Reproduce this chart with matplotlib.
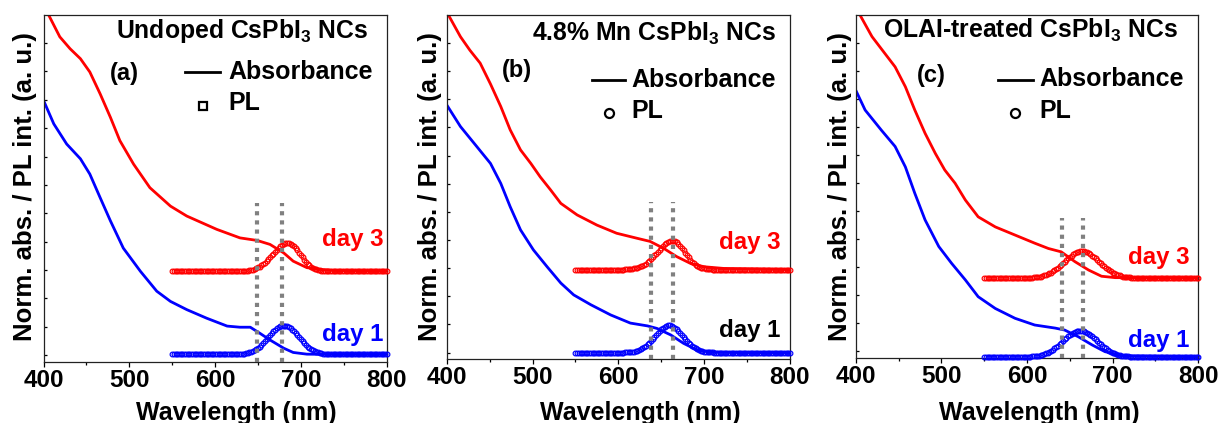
import numpy as np
import matplotlib
matplotlib.use("Agg")
import matplotlib.pyplot as plt
from matplotlib.lines import Line2D
from matplotlib.ticker import MultipleLocator

plt.rcParams['font.family'] = ['Liberation Sans', 'DejaVu Sans']
plt.rcParams['font.weight'] = 'bold'
plt.rcParams['mathtext.fontset'] = 'custom'
plt.rcParams['mathtext.rm'] = 'Liberation Sans:bold'
plt.rcParams['mathtext.bf'] = 'Liberation Sans:bold'
plt.rcParams['mathtext.it'] = 'Liberation Sans:bold'

W, H = 1221, 423
RED, BLUE, GREY = '#ff0000', '#0000ff', '#808080'

# ---------------- absorbance spectra (wavelength nm, offset norm. abs.) ----
a_abs3_nm = [400, 406, 419, 431, 443, 454, 466, 478, 489, 505, 524, 548, 567,
             602, 629, 649, 664, 680, 691, 707, 722, 738, 800]
a_abs3 = [12.5, 11.99, 11.22, 10.80, 10.45, 9.98, 9.21, 8.38, 7.56, 6.73, 5.90,
          5.25, 4.90, 4.43, 4.13, 4.04, 3.90, 3.60, 3.31, 3.08, 3.02, 2.98, 2.95]
a_abs1_nm = [400, 412, 427, 443, 454, 466, 478, 493, 513, 532, 548, 567, 590,
             614, 629, 641, 652, 664, 680, 691, 707, 738, 800]
a_abs1 = [8.98, 8.15, 7.44, 6.92, 6.38, 5.55, 4.73, 3.77, 2.95, 2.25, 1.89, 1.60,
          1.30, 1.02, 0.98, 0.98, 0.77, 0.53, 0.24, 0.09, 0.03, 0.02, 0.02]

b_abs3_nm = [400, 416, 427, 439, 451, 463, 474, 486, 498, 509, 521, 533, 552,
             575, 598, 622, 637, 653, 668, 684, 700, 723, 800]
b_abs3 = [12.1, 11.22, 10.74, 10.28, 9.54, 8.74, 7.91, 7.20, 6.72, 6.24, 5.78,
          5.30, 4.89, 4.53, 4.24, 4.06, 3.95, 3.70, 3.41, 3.17, 3.05, 2.99, 2.95]
b_abs1_nm = [400, 416, 435, 451, 463, 474, 486, 501, 517, 533, 548, 568, 591,
             614, 634, 645, 661, 676, 692, 707, 746, 800]
b_abs1 = [8.80, 8.03, 7.32, 6.72, 6.01, 5.18, 4.36, 3.65, 3.05, 2.47, 2.05, 1.70,
          1.34, 1.05, 0.95, 0.86, 0.63, 0.33, 0.09, 0.02, 0.00, 0.00]

c_abs3_nm = [400, 405, 419, 434, 446, 458, 469, 481, 493, 504, 516, 528, 543,
             563, 586, 609, 625, 640, 656, 672, 687, 703, 800]
c_abs3 = [12.35, 11.99, 11.22, 10.62, 10.14, 9.43, 8.60, 7.77, 7.05, 6.46, 5.99,
          5.39, 4.79, 4.43, 4.14, 3.85, 3.66, 3.54, 3.19, 2.89, 2.67, 2.62, 2.61]
c_abs1_nm = [400, 411, 430, 446, 458, 469, 481, 497, 512, 528, 543, 563, 586,
             609, 633, 644, 660, 676, 691, 711, 800]
c_abs1 = [9.31, 8.60, 7.88, 7.30, 6.57, 5.63, 4.68, 3.73, 3.13, 2.54, 1.94, 1.52,
          1.17, 0.93, 0.82, 0.75, 0.51, 0.22, -0.02, -0.17, -0.20]

# ---------------- PL spectra, sampled every 2 nm from 550 to 800 nm --------
pl_nm = np.arange(550, 801, 2)

a_pl3 = [2.95, 2.95, 2.95, 2.95, 2.95, 2.95, 2.95, 2.95, 2.95, 2.95,
         2.95, 2.95, 2.95, 2.95, 2.95, 2.95, 2.95, 2.95, 2.95, 2.95,
         2.95, 2.95, 2.95, 2.95, 2.95, 2.95, 2.95, 2.95, 2.95, 2.95,
         2.95, 2.95, 2.95, 2.95, 2.95, 2.95, 2.95, 2.95, 2.95, 2.95,
         2.96, 2.96, 2.96, 2.97, 2.98, 2.99, 3.00, 3.01, 3.03, 3.06,
         3.09, 3.12, 3.16, 3.20, 3.25, 3.31, 3.37, 3.44, 3.51, 3.57,
         3.64, 3.71, 3.77, 3.83, 3.87, 3.91, 3.94, 3.95, 3.95, 3.93,
         3.89, 3.84, 3.77, 3.69, 3.61, 3.53, 3.44, 3.36, 3.29, 3.22,
         3.17, 3.12, 3.08, 3.05, 3.02, 3.00, 2.99, 2.97, 2.97, 2.96,
         2.96, 2.95, 2.95, 2.95, 2.95, 2.95, 2.95, 2.95, 2.95, 2.95,
         2.95, 2.95, 2.95, 2.95, 2.95, 2.95, 2.95, 2.95, 2.95, 2.95,
         2.95, 2.95, 2.95, 2.95, 2.95, 2.95, 2.95, 2.95, 2.95, 2.95,
         2.95, 2.95, 2.95, 2.95, 2.95, 2.95]
a_pl1 = [0.02, 0.02, 0.02, 0.02, 0.02, 0.02, 0.02, 0.02, 0.02, 0.02,
         0.02, 0.02, 0.02, 0.02, 0.02, 0.02, 0.02, 0.02, 0.02, 0.02,
         0.02, 0.02, 0.02, 0.02, 0.02, 0.02, 0.02, 0.02, 0.02, 0.02,
         0.02, 0.02, 0.02, 0.02, 0.02, 0.02, 0.02, 0.03, 0.03, 0.03,
         0.04, 0.04, 0.05, 0.06, 0.08, 0.09, 0.12, 0.14, 0.18, 0.21,
         0.25, 0.30, 0.36, 0.42, 0.48, 0.55, 0.62, 0.69, 0.76, 0.83,
         0.89, 0.94, 0.98, 1.01, 1.03, 1.04, 1.03, 1.01, 0.98, 0.94,
         0.89, 0.83, 0.76, 0.69, 0.62, 0.55, 0.48, 0.42, 0.36, 0.30,
         0.25, 0.21, 0.18, 0.14, 0.12, 0.09, 0.08, 0.06, 0.05, 0.04,
         0.04, 0.03, 0.03, 0.03, 0.02, 0.02, 0.02, 0.02, 0.02, 0.02,
         0.02, 0.02, 0.02, 0.02, 0.02, 0.02, 0.02, 0.02, 0.02, 0.02,
         0.02, 0.02, 0.02, 0.02, 0.02, 0.02, 0.02, 0.02, 0.02, 0.02,
         0.02, 0.02, 0.02, 0.02, 0.02, 0.02]

b_pl3 = [2.95, 2.95, 2.95, 2.95, 2.95, 2.95, 2.95, 2.95, 2.95, 2.95,
         2.95, 2.95, 2.95, 2.95, 2.95, 2.95, 2.95, 2.95, 2.95, 2.95,
         2.95, 2.95, 2.95, 2.95, 2.95, 2.95, 2.95, 2.95, 2.95, 2.96,
         2.96, 2.96, 2.97, 2.98, 2.99, 3.00, 3.02, 3.04, 3.06, 3.09,
         3.12, 3.16, 3.21, 3.26, 3.32, 3.38, 3.45, 3.52, 3.59, 3.66,
         3.73, 3.80, 3.85, 3.90, 3.94, 3.96, 3.98, 3.98, 3.96, 3.92,
         3.86, 3.79, 3.72, 3.63, 3.54, 3.46, 3.38, 3.30, 3.23, 3.17,
         3.12, 3.08, 3.05, 3.02, 3.00, 2.99, 2.97, 2.97, 2.96, 2.96,
         2.95, 2.95, 2.95, 2.95, 2.95, 2.95, 2.95, 2.95, 2.95, 2.95,
         2.95, 2.95, 2.95, 2.95, 2.95, 2.95, 2.95, 2.95, 2.95, 2.95,
         2.95, 2.95, 2.95, 2.95, 2.95, 2.95, 2.95, 2.95, 2.95, 2.95,
         2.95, 2.95, 2.95, 2.95, 2.95, 2.95, 2.95, 2.95, 2.95, 2.95,
         2.95, 2.95, 2.95, 2.95, 2.95, 2.95]
b_pl1 = [0.00, 0.00, 0.00, 0.00, 0.00, 0.00, 0.00, 0.00, 0.00, 0.00,
         0.00, 0.00, 0.00, 0.00, 0.00, 0.00, 0.00, 0.00, 0.00, 0.00,
         0.00, 0.00, 0.00, 0.00, 0.00, 0.00, 0.00, 0.00, 0.00, 0.01,
         0.01, 0.01, 0.02, 0.03, 0.04, 0.05, 0.07, 0.09, 0.12, 0.15,
         0.19, 0.23, 0.29, 0.35, 0.41, 0.48, 0.55, 0.62, 0.70, 0.77,
         0.83, 0.88, 0.92, 0.95, 0.97, 0.97, 0.95, 0.92, 0.88, 0.83,
         0.77, 0.70, 0.62, 0.55, 0.48, 0.41, 0.35, 0.29, 0.23, 0.19,
         0.15, 0.12, 0.09, 0.07, 0.05, 0.04, 0.03, 0.02, 0.01, 0.01,
         0.01, 0.00, 0.00, 0.00, 0.00, 0.00, 0.00, 0.00, 0.00, 0.00,
         0.00, 0.00, 0.00, 0.00, 0.00, 0.00, 0.00, 0.00, 0.00, 0.00,
         0.00, 0.00, 0.00, 0.00, 0.00, 0.00, 0.00, 0.00, 0.00, 0.00,
         0.00, 0.00, 0.00, 0.00, 0.00, 0.00, 0.00, 0.00, 0.00, 0.00,
         0.00, 0.00, 0.00, 0.00, 0.00, 0.00]

c_pl3 = [2.61, 2.61, 2.61, 2.61, 2.61, 2.61, 2.61, 2.61, 2.61, 2.61,
         2.61, 2.61, 2.61, 2.61, 2.61, 2.61, 2.61, 2.61, 2.61, 2.61,
         2.61, 2.61, 2.61, 2.61, 2.61, 2.62, 2.62, 2.62, 2.62, 2.63,
         2.63, 2.64, 2.65, 2.66, 2.68, 2.70, 2.72, 2.74, 2.77, 2.80,
         2.84, 2.88, 2.92, 2.97, 3.02, 3.08, 3.13, 3.19, 3.25, 3.31,
         3.36, 3.41, 3.46, 3.50, 3.53, 3.55, 3.57, 3.57, 3.57, 3.55,
         3.53, 3.50, 3.46, 3.41, 3.36, 3.31, 3.25, 3.19, 3.13, 3.08,
         3.02, 2.97, 2.92, 2.88, 2.84, 2.80, 2.77, 2.74, 2.72, 2.70,
         2.68, 2.66, 2.65, 2.64, 2.63, 2.63, 2.62, 2.62, 2.62, 2.62,
         2.61, 2.61, 2.61, 2.61, 2.61, 2.61, 2.61, 2.61, 2.61, 2.61,
         2.61, 2.61, 2.61, 2.61, 2.61, 2.61, 2.61, 2.61, 2.61, 2.61,
         2.61, 2.61, 2.61, 2.61, 2.61, 2.61, 2.61, 2.61, 2.61, 2.61,
         2.61, 2.61, 2.61, 2.61, 2.61, 2.61]
c_pl1 = [-0.21, -0.21, -0.21, -0.21, -0.21, -0.21, -0.21, -0.21, -0.21, -0.21,
         -0.21, -0.21, -0.21, -0.21, -0.21, -0.21, -0.21, -0.21, -0.21, -0.21,
         -0.21, -0.21, -0.21, -0.21, -0.20, -0.20, -0.20, -0.20, -0.19, -0.19,
         -0.18, -0.17, -0.16, -0.14, -0.13, -0.11, -0.08, -0.06, -0.02, 0.01,
         0.05, 0.10, 0.14, 0.19, 0.25, 0.30, 0.36, 0.42, 0.47, 0.53,
         0.57, 0.62, 0.66, 0.69, 0.71, 0.72, 0.73, 0.72, 0.71, 0.69,
         0.66, 0.62, 0.57, 0.53, 0.47, 0.42, 0.36, 0.30, 0.25, 0.19,
         0.14, 0.10, 0.05, 0.01, -0.02, -0.06, -0.08, -0.11, -0.13, -0.14,
         -0.16, -0.17, -0.18, -0.19, -0.19, -0.20, -0.20, -0.20, -0.20, -0.21,
         -0.21, -0.21, -0.21, -0.21, -0.21, -0.21, -0.21, -0.21, -0.21, -0.21,
         -0.21, -0.21, -0.21, -0.21, -0.21, -0.21, -0.21, -0.21, -0.21, -0.21,
         -0.21, -0.21, -0.21, -0.21, -0.21, -0.21, -0.21, -0.21, -0.21, -0.21,
         -0.21, -0.21, -0.21, -0.21, -0.21, -0.21]

# PL peak-position guides (nm) and their top (norm. units)
a_guides, a_guide_top = [648.5, 677.7], 5.37
b_guides, b_guide_top = [638.0, 664.0], 5.36
c_guides, c_guide_top = [640.5, 665.0], 4.74

titles = ['Undoped CsPbI$_\\mathbf{3}$ NCs', '4.8% Mn CsPbI$_\\mathbf{3}$ NCs',
          'OLAI-treated CsPbI$_\\mathbf{3}$ NCs']
tags = ['(a)', '(b)', '(c)']
day1_colors = [BLUE, 'black', BLUE]
pl_markers = ['s', 'o', 'o']

YLIM = (-0.236, 11.99)

panels = [
    dict(rect=(43.5, 15.0, 386.7, 361.7), abs3=(a_abs3_nm, a_abs3), abs1=(a_abs1_nm, a_abs1),
         pl3=a_pl3, pl1=a_pl1, guides=a_guides, gtop=a_guide_top,
         title_at=(368.3, 38.3), tag_at=(110.0, 80.0), leg_line=(185.0, 220.0, 72.0),
         abs_txt=(228.3, 79.0), pl_mk=(202.5, 106.0), pl_txt=(228.3, 110.0),
         d3=(321.7, 246.0), d1=(321.7, 340.7), ylab_x=25.0, xlab_x=236.0),
    dict(rect=(446.7, 15.0, 790.0, 359.3), abs3=(b_abs3_nm, b_abs3), abs1=(b_abs1_nm, b_abs1),
         pl3=b_pl3, pl1=b_pl1, guides=b_guides, gtop=b_guide_top,
         title_at=(776.0, 40.7), tag_at=(501.7, 76.7), leg_line=(591.7, 625.0, 80.0),
         abs_txt=(631.7, 87.3), pl_mk=(609.0, 112.7), pl_txt=(631.7, 118.3),
         d3=(719.3, 249.3), d1=(719.3, 337.3), ylab_x=430.0, xlab_x=640.0),
    dict(rect=(855.7, 15.0, 1198.3, 357.7), abs3=(c_abs3_nm, c_abs3), abs1=(c_abs1_nm, c_abs1),
         pl3=c_pl3, pl1=c_pl1, guides=c_guides, gtop=c_guide_top,
         title_at=(1178.3, 37.3), tag_at=(916.7, 81.7), leg_line=(998.3, 1033.3, 80.0),
         abs_txt=(1039.0, 86.0), pl_mk=(1015.0, 112.7), pl_txt=(1039.0, 118.3),
         d3=(1128.3, 264.0), d1=(1128.3, 346.7), ylab_x=840.0, xlab_x=1039.0),
]

fig = plt.figure(figsize=(W / 100, H / 100), dpi=100)


def fx(px):
    return px / W


def fy(py):
    return 1 - py / H


def ftext(px, py, s, **kw):
    kw.setdefault('fontsize', 17)
    kw.setdefault('fontweight', 'bold')
    fig.text(fx(px), fy(py), s, **kw)


for i, p in enumerate(panels):
    l, t, r, b = p['rect']
    ax = fig.add_axes([fx(l), fy(b), (r - l) / W, (b - t) / H])

    ax.plot(*p['abs3'], color=RED, lw=2.0, zorder=2, solid_joinstyle='round')
    ax.plot(*p['abs1'], color=BLUE, lw=2.0, zorder=2, solid_joinstyle='round')
    for series, col in ((p['pl3'], RED), (p['pl1'], BLUE)):
        ax.plot(pl_nm, series, ls='none', marker='o', ms=3.4, mfc='none',
                mec=col, mew=0.85, clip_on=False, zorder=3)
    for g in p['guides']:
        ax.plot([g, g], [YLIM[0], p['gtop']], color=GREY, lw=3.0,
                ls=(0, (1, 1.2)), zorder=4)

    ax.set_xlim(400, 800)
    ax.set_ylim(*YLIM)
    ax.xaxis.set_major_locator(MultipleLocator(100))
    ax.xaxis.set_minor_locator(MultipleLocator(50))
    ax.set_yticks(np.arange(0, 12))
    ax.tick_params(axis='x', which='major', direction='out', length=3.4, width=0.9,
                   labelsize=17.5, pad=1.5, top=False)
    ax.tick_params(axis='x', which='minor', direction='out', length=2.2, width=0.9,
                   top=False)
    ax.tick_params(axis='y', which='major', direction='in', length=2.4, width=0.9,
                   labelleft=False, right=False)
    for lab in ax.get_xticklabels():
        lab.set_fontweight('bold')
    for sp in ax.spines.values():
        sp.set_linewidth(0.9)
        sp.set_color('#222222')

    # annotations
    ftext(*p['title_at'], titles[i], ha='right', va='baseline', fontsize=17.8)
    ftext(*p['tag_at'], tags[i], ha='left', va='baseline')
    x0, x1, yl = p['leg_line']
    fig.add_artist(Line2D([fx(x0), fx(x1)], [fy(yl), fy(yl)], color='black', lw=2.0))
    ftext(*p['abs_txt'], 'Absorbance', ha='left', va='baseline', fontsize=18)
    mx, my = p['pl_mk']
    fig.add_artist(Line2D([fx(mx)], [fy(my)], ls='none', marker=pl_markers[i],
                          ms=5.5 if pl_markers[i] == 's' else 6.5, mfc='none',
                          mec='black', mew=1.6))
    ftext(*p['pl_txt'], 'PL', ha='left', va='baseline', fontsize=18)
    ftext(*p['d3'], 'day 3', ha='left', va='baseline', color=RED, fontsize=17.3)
    ftext(*p['d1'], 'day 1', ha='left', va='baseline', color=day1_colors[i],
          fontsize=17.3)

    ftext(p['ylab_x'], 186.7, 'Norm. abs. / PL int. (a. u.)', rotation=90,
          ha='center', va='center', fontsize=18.5)
    ftext(p['xlab_x'], 419.5, 'Wavelength (nm)', ha='center', va='baseline',
          fontsize=18)

fig.savefig('out.png', dpi=100)
